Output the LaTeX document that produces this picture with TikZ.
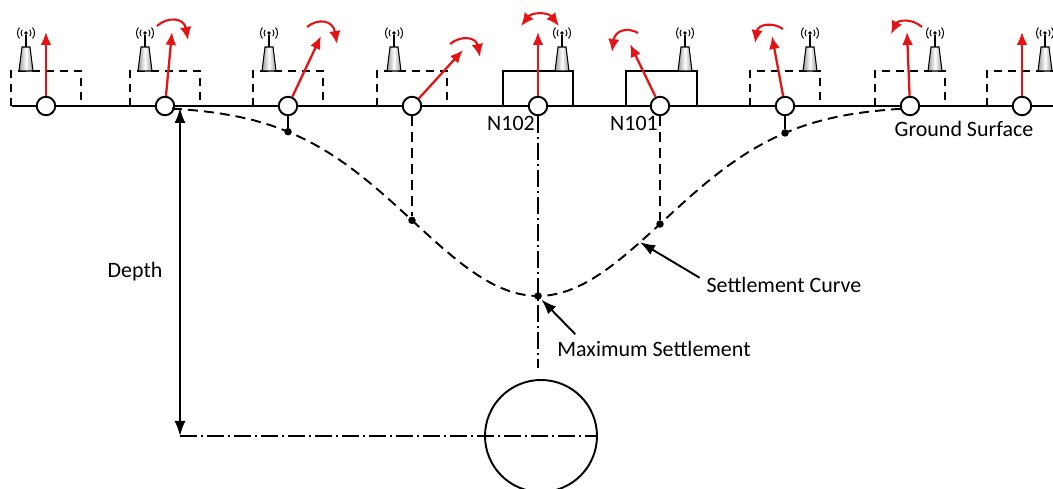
\documentclass[tikz,border=0pt]{standalone}
\usepackage{fontspec}
\setmainfont{Carlito}
\usetikzlibrary{calc,arrows.meta,positioning}
\definecolor{tiltred}{RGB}{228,20,20}
% wireless tilt sensor on top of a box, #1 = x position
\newcommand{\tower}[1]{%
  \shadedraw[left color=black!40, right color=black!40, middle color=white, line width=0.6pt]
        (#1-4,47) -- (#1+4,47) -- (#1+7,71) -- (#1-7,71) -- cycle;
  \draw[line width=0.8pt] (#1,35) -- (#1,47);
  \fill (#1,33) circle (1.9);
  \draw[line width=0.55pt] (#1,33) ++(140:5) arc (140:220:5);
  \draw[line width=0.55pt] (#1,33) ++(140:8.5) arc (140:220:8.5);
  \draw[line width=0.55pt] (#1,33) ++(-40:5) arc (-40:40:5);
  \draw[line width=0.55pt] (#1,33) ++(-40:8.5) arc (-40:40:8.5);
}

\begin{document}
\begin{tikzpicture}[x=0.2mm, y=-0.2mm,
    gauge/.style={circle, draw, fill=white, line width=1.1pt, minimum size=3.7mm, inner sep=0pt},
    pin/.style={circle, fill=black, minimum size=1.5mm, inner sep=0pt},
    lbl/.style={font=\fontsize{12.5}{15}\selectfont, inner sep=1pt},
    tilt/.style={tiltred, line width=1.3pt, -{Latex[length=2.6mm,width=2.2mm]}},
    rot/.style={tiltred, line width=1.2pt, -{Latex[length=2.6mm,width=2.3mm]}},
    callout/.style={line width=1.1pt, -{Latex[length=3mm,width=2.2mm]}},
    boxline/.style={line width=1.1pt, dash pattern=on 1.6mm off 1.2mm},
    settle/.style={line width=1.1pt, dash pattern=on 2mm off 1.2mm},
    centre/.style={line width=1.1pt, dash pattern=on 3.4mm off 0.8mm on 0.4mm off 0.8mm}]
\useasboundingbox (0,0) rectangle (1053,489);

%---------------- boxes and sensors -----------------
\draw[boxline] (11,106) -- (11,71) -- (81,71) -- (81,106);
\draw[boxline] (130,106) -- (130,71) -- (200,71) -- (200,106);
\draw[boxline] (253,106) -- (253,71) -- (323,71) -- (323,106);
\draw[boxline] (377,106) -- (377,71) -- (447,71) -- (447,106);
\draw[line width=1.1pt] (503,106) rectangle (573,71);
\draw[line width=1.1pt] (626,106) rectangle (697,71);
\draw[boxline] (750,106) -- (750,71) -- (820,71) -- (820,106);
\draw[boxline] (875,106) -- (875,71) -- (945,71) -- (945,106);
\draw[boxline] (987,106) -- (987,71) -- (1057,71);
\tower{26} \tower{145} \tower{269} \tower{394}
\tower{562} \tower{685} \tower{810} \tower{935} \tower{1045}

%---------------- ground surface and gauges -----------------
\draw[line width=1.2pt] (12,106) -- (1053,106);
\node[gauge] (g1) at (46,106) {};
\node[gauge] (g2) at (165,106) {};
\node[gauge] (g3) at (288,106) {};
\node[gauge] (g4) at (412,106) {};
\node[gauge] (g5) at (538,106) {};
\node[gauge] (g6) at (660,106) {};
\node[gauge] (g7) at (785,106) {};
\node[gauge] (g8) at (910,106) {};
\node[gauge] (g9) at (1022,106) {};

% tilt vectors
\coordinate (t1) at (46,32);
\coordinate (t2) at (172,32);
\coordinate (t3) at (321,36);
\coordinate (t4) at (463,50);
\coordinate (t5) at (538,32);
\coordinate (t6) at (630,44);
\coordinate (t7) at (772,36);
\coordinate (t8) at (907,32);
\coordinate (t9) at (1022,32);
\draw[tilt] (g1) -- (t1);
\draw[tilt] (g2) -- (t2);
\draw[tilt] (g3) -- (t3);
\draw[tilt] (g4) -- (t4);
\draw[tilt] (g5) -- (t5);
\draw[tilt] (g6) -- (t6);
\draw[tilt] (g7) -- (t7);
\draw[tilt] (g8) -- (t8);
\draw[tilt] (g9) -- (t9);

% rotation sense
\draw[rot] (157,26) .. controls (168,16) and (184,18) .. (188,40);
\draw[rot] (307,27) .. controls (318,18) and (333,20) .. (337,44);
\draw[rot] (450,44) .. controls (461,35) and (476,37) .. (480,57);
\draw[rot, {Latex[length=2.6mm,width=2.3mm]}-{Latex[length=2.6mm,width=2.3mm]}]
      (521,26) .. controls (532,12) and (548,12) .. (559,26);
\draw[rot] (638,33) .. controls (628,27) and (615,30) .. (612,52);
\draw[rot] (783,29) .. controls (773,22) and (758,24) .. (755,43);
\draw[rot] (922,27) .. controls (912,18) and (898,20) .. (891,34);

%---------------- settlement trough -----------------
\draw[settle] plot[domain=172:905, samples=90] (\x, {106+190*exp(-0.5*((\x-538)/125)^2)});
\node[pin] (p3) at (288,{106+190*exp(-0.5*((288-538)/125)^2)}) {};
\node[pin] (p4) at (412,{106+190*exp(-0.5*((412-538)/125)^2)}) {};
\node[pin] (p5) at (538,296) {};
\node[pin] (p6) at (660,{106+190*exp(-0.5*((660-538)/125)^2)}) {};
\node[pin] (p7) at (785,{106+190*exp(-0.5*((785-538)/125)^2)}) {};
\draw[line width=1.1pt] (g3) -- (p3);
\draw[settle] (g4) -- (p4);
\draw[settle] (g6) -- (p6);
\draw[line width=1.1pt] (g7) -- (p7);
\coordinate (cl) at (538,368);
\draw[centre] (g5) -- (cl);

%---------------- tunnel and depth -----------------
\node[circle, draw, line width=1.1pt, minimum size=22.4mm, inner sep=0pt] (tun) at (541,436) {};
\coordinate (dtop) at (180,108);
\coordinate (dbot) at (180,436);
\draw[line width=1.1pt, {Latex[length=3mm,width=2.2mm]}-{Latex[length=3mm,width=2.2mm]}] (dtop) -- (dbot);
\draw[centre] (dbot) -- (tun.east);

%---------------- labels -----------------
\node[lbl] (dep) at (135,272) {Depth};
\node[lbl] (n102) at (511,123) {N102};
\node[lbl] (n101) at (634,123) {N101};
\node[lbl] (gs) at (964,129) {Ground Surface};
\node[lbl] (scl) at (784,285) {Settlement Curve};
\node[lbl] (msl) at (654,349) {Maximum Settlement};
\coordinate (sc) at (640,{106+190*exp(-0.5*((640-538)/125)^2)});
\draw[callout] ([xshift=-1mm,yshift=-0.5mm]scl.north west) -- (sc);
\draw[callout, shorten >=0.5pt] ([xshift=4mm,yshift=1mm]msl.north west) -- (p5);

\end{tikzpicture}
\end{document}
